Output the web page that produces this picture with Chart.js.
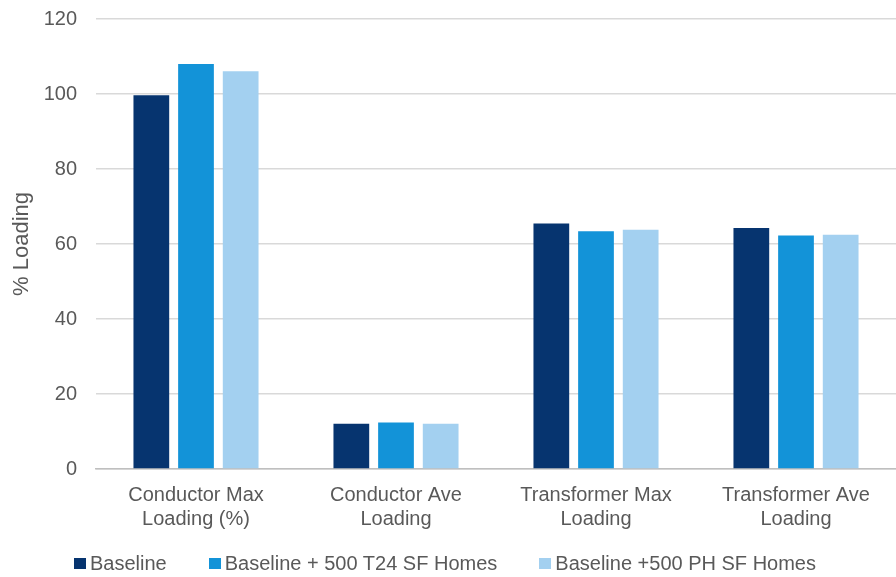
<!DOCTYPE html>
<html>
<head>
<meta charset="utf-8">
<script src="https://cdn.jsdelivr.net/npm/chart.js@4"></script>
<style>
html,body{margin:0;padding:0;background:#fff;}
#wrap{position:relative;width:896px;height:577px;}
#legend{position:absolute;left:0;width:890px;top:551px;height:24px;display:flex;justify-content:center;align-items:center;gap:42px;
  font-family:'Liberation Sans',Arial,sans-serif;font-size:20px;color:#595959;line-height:24px;white-space:nowrap;}
#legend .item{display:flex;align-items:center;}
#legend .sw{width:12px;height:11px;margin-right:4px;display:inline-block;}
</style>
</head>
<body>
<div id="wrap"><canvas id="c" width="896" height="577"></canvas><div id="legend"></div></div>
<script>
const categories = [["Conductor Max","Loading (%)"],["Conductor Ave","Loading"],["Transformer Max","Loading"],["Transformer Ave","Loading"]];
const seriesNames = ["Baseline","Baseline + 500 T24 SF Homes","Baseline +500 PH SF Homes"];
const baseline = [99.7, 12.1, 65.5, 64.3];
const t24 = [108.0, 12.4, 63.4, 62.3];
const ph = [106.1, 12.1, 63.8, 62.5];
const colors = ["#06346F","#1393D8","#A3D0F0"];

const FONT = "'Liberation Sans', Arial, sans-serif";
const TXT = "#595959";

const chart = new Chart(document.getElementById('c'), {
  type: 'bar',
  data: {
    labels: categories,
    datasets: [baseline, t24, ph].map((d,i)=>({
      label: seriesNames[i],
      data: d,
      backgroundColor: colors[i],
      borderWidth: 0,
      barPercentage: 0.8,
      categoryPercentage: 0.67
    }))
  },
  options: {
    responsive: false,
    animation: false,
    devicePixelRatio: 1,
    layout: { padding: { top: 0, right: 0, left: 0, bottom: 32 } },
    plugins: {
      legend: { display: false },
      tooltip: { enabled: false }
    },
    scales: {
      x: {
        grid: { display: false, drawTicks: false },
        border: { color: '#BFBFBF', width: 1.5 },
        ticks: { color: TXT, font: { family: FONT, size: 20, lineHeight: 1.2 }, padding: 14, maxRotation: 0 }
      },
      y: {
        min: 0, max: 120,
        afterFit: (s) => { s.width = 96; s.paddingTop = 19; },
        ticks: { stepSize: 20, color: TXT, font: { family: FONT, size: 20 }, padding: 19 },
        grid: { color: '#D9D9D9', lineWidth: 1.5, drawTicks: false },
        border: { display: false },
        title: { display: true, text: '% Loading', color: TXT, font: { family: FONT, size: 22 }, padding: { top: 9, bottom: 0 } }
      }
    }
  }
});

const lg = document.getElementById('legend');
seriesNames.forEach((n, i) => {
  const it = document.createElement('span'); it.className = 'item';
  const sw = document.createElement('span'); sw.className = 'sw'; sw.style.background = colors[i];
  const tx = document.createElement('span'); tx.textContent = n;
  it.appendChild(sw); it.appendChild(tx); lg.appendChild(it);
});
</script>
</body>
</html>
